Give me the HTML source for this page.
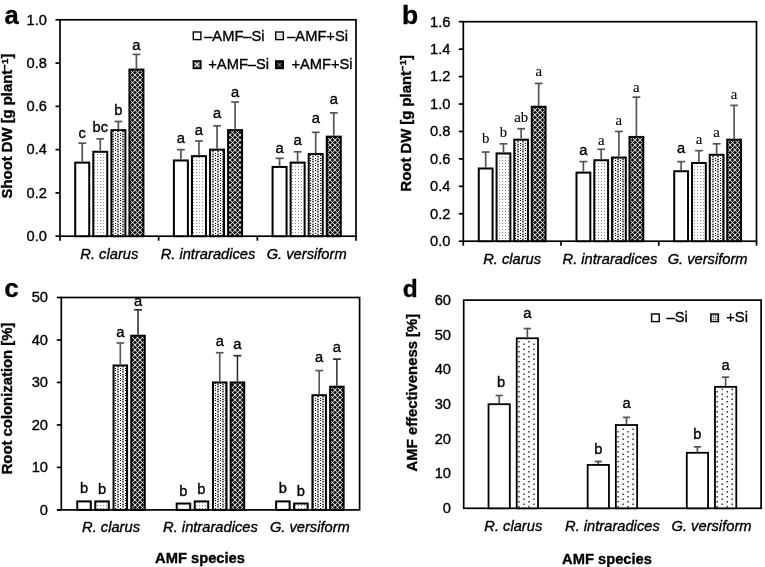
<!DOCTYPE html>
<html><head><meta charset="utf-8"><style>
html,body{margin:0;padding:0;background:#fff;}
svg{display:block;will-change:transform;}
text{fill:#000;stroke:#000;stroke-width:0.35px;}
</style></head><body>
<svg width="765" height="567" viewBox="0 0 765 567">
<defs>
<pattern id="p2" width="3" height="3" patternUnits="userSpaceOnUse"><rect width="3" height="3" fill="#fff"/><rect x="1" y="1" width="1" height="1" fill="#8a8a8a"/></pattern>
<pattern id="p3" width="5" height="5" patternUnits="userSpaceOnUse" x="0" y="0"><rect x="0" y="0" width="1" height="1" fill="#000"/><rect x="1" y="0" width="1" height="1" fill="#fff"/><rect x="2" y="0" width="1" height="1" fill="#c4c4c4"/><rect x="3" y="0" width="1" height="1" fill="#c4c4c4"/><rect x="4" y="0" width="1" height="1" fill="#fff"/><rect x="0" y="1" width="1" height="1" fill="#fff"/><rect x="1" y="1" width="1" height="1" fill="#fff"/><rect x="2" y="1" width="1" height="1" fill="#555"/><rect x="3" y="1" width="1" height="1" fill="#555"/><rect x="4" y="1" width="1" height="1" fill="#fff"/><rect x="0" y="2" width="1" height="1" fill="#fff"/><rect x="1" y="2" width="1" height="1" fill="#fff"/><rect x="2" y="2" width="1" height="1" fill="#c4c4c4"/><rect x="3" y="2" width="1" height="1" fill="#c4c4c4"/><rect x="4" y="2" width="1" height="1" fill="#fff"/><rect x="0" y="3" width="1" height="1" fill="#000"/><rect x="1" y="3" width="1" height="1" fill="#fff"/><rect x="2" y="3" width="1" height="1" fill="#c4c4c4"/><rect x="3" y="3" width="1" height="1" fill="#c4c4c4"/><rect x="4" y="3" width="1" height="1" fill="#fff"/><rect x="0" y="4" width="1" height="1" fill="#fff"/><rect x="1" y="4" width="1" height="1" fill="#fff"/><rect x="2" y="4" width="1" height="1" fill="#555"/><rect x="3" y="4" width="1" height="1" fill="#555"/><rect x="4" y="4" width="1" height="1" fill="#fff"/></pattern>
<pattern id="p4" width="5" height="5" patternUnits="userSpaceOnUse" x="0" y="0"><rect x="0" y="0" width="1" height="1" fill="#d0d0d0"/><rect x="1" y="0" width="1" height="1" fill="#333"/><rect x="2" y="0" width="1" height="1" fill="#0a0a0a"/><rect x="3" y="0" width="1" height="1" fill="#333"/><rect x="4" y="0" width="1" height="1" fill="#d0d0d0"/><rect x="0" y="1" width="1" height="1" fill="#333"/><rect x="1" y="1" width="1" height="1" fill="#bdbdbd"/><rect x="2" y="1" width="1" height="1" fill="#333"/><rect x="3" y="1" width="1" height="1" fill="#bdbdbd"/><rect x="4" y="1" width="1" height="1" fill="#333"/><rect x="0" y="2" width="1" height="1" fill="#0a0a0a"/><rect x="1" y="2" width="1" height="1" fill="#333"/><rect x="2" y="2" width="1" height="1" fill="#fff"/><rect x="3" y="2" width="1" height="1" fill="#333"/><rect x="4" y="2" width="1" height="1" fill="#0a0a0a"/><rect x="0" y="3" width="1" height="1" fill="#333"/><rect x="1" y="3" width="1" height="1" fill="#bdbdbd"/><rect x="2" y="3" width="1" height="1" fill="#333"/><rect x="3" y="3" width="1" height="1" fill="#bdbdbd"/><rect x="4" y="3" width="1" height="1" fill="#333"/><rect x="0" y="4" width="1" height="1" fill="#d0d0d0"/><rect x="1" y="4" width="1" height="1" fill="#333"/><rect x="2" y="4" width="1" height="1" fill="#0a0a0a"/><rect x="3" y="4" width="1" height="1" fill="#333"/><rect x="4" y="4" width="1" height="1" fill="#d0d0d0"/></pattern>
<pattern id="pl" width="2" height="2" patternUnits="userSpaceOnUse"><rect width="2" height="2" fill="#bbb"/><rect width="1" height="1" fill="#fff"/><rect x="1" y="1" width="1" height="1" fill="#666"/></pattern>
<pattern id="pl2" width="8" height="8" patternUnits="objectBoundingBox"><rect width="8" height="8" fill="#f4f4f4"/><rect x="2" y="2" width="3.6" height="3.6" fill="#d8d8d8"/></pattern>
<pattern id="pl3" width="8" height="8" patternUnits="objectBoundingBox"><rect width="8" height="8" fill="#3a3a3a"/><path d="M1.5 1.5L6 6M6 1.5L1.5 6" stroke="#eee" stroke-width="1.3"/></pattern>
<pattern id="pl4" width="8" height="8" patternUnits="objectBoundingBox"><rect width="8" height="8" fill="#0a0a0a"/><path d="M1.8 1.8L5.8 5.8M5.8 1.8L1.8 5.8" stroke="#aaa" stroke-width="0.9"/></pattern>
</defs>
<rect width="765" height="567" fill="#fff"/>
<rect x="60" y="19.8" width="296" height="216.4" fill="none" stroke="#000" stroke-width="1.7"/>
<line x1="55.5" y1="236.2" x2="60" y2="236.2" stroke="#000" stroke-width="1.7"/>
<text x="47" y="241" font-size="14.7" text-anchor="end" font-weight="normal" font-style="normal" font-family='"Liberation Sans", sans-serif' >0.0</text>
<line x1="55.5" y1="192.92" x2="60" y2="192.92" stroke="#000" stroke-width="1.7"/>
<text x="47" y="197.72" font-size="14.7" text-anchor="end" font-weight="normal" font-style="normal" font-family='"Liberation Sans", sans-serif' >0.2</text>
<line x1="55.5" y1="149.64" x2="60" y2="149.64" stroke="#000" stroke-width="1.7"/>
<text x="47" y="154.44" font-size="14.7" text-anchor="end" font-weight="normal" font-style="normal" font-family='"Liberation Sans", sans-serif' >0.4</text>
<line x1="55.5" y1="106.36" x2="60" y2="106.36" stroke="#000" stroke-width="1.7"/>
<text x="47" y="111.16" font-size="14.7" text-anchor="end" font-weight="normal" font-style="normal" font-family='"Liberation Sans", sans-serif' >0.6</text>
<line x1="55.5" y1="63.08" x2="60" y2="63.08" stroke="#000" stroke-width="1.7"/>
<text x="47" y="67.88" font-size="14.7" text-anchor="end" font-weight="normal" font-style="normal" font-family='"Liberation Sans", sans-serif' >0.8</text>
<line x1="55.5" y1="19.8" x2="60" y2="19.8" stroke="#000" stroke-width="1.7"/>
<text x="47" y="24.6" font-size="14.7" text-anchor="end" font-weight="normal" font-style="normal" font-family='"Liberation Sans", sans-serif' >1.0</text>
<line x1="60" y1="236.2" x2="60" y2="240.7" stroke="#000" stroke-width="1.7"/>
<line x1="158.67" y1="236.2" x2="158.67" y2="240.7" stroke="#000" stroke-width="1.7"/>
<line x1="257.33" y1="236.2" x2="257.33" y2="240.7" stroke="#000" stroke-width="1.7"/>
<line x1="356" y1="236.2" x2="356" y2="240.7" stroke="#000" stroke-width="1.7"/>
<text x="109.33" y="258.6" font-size="14.7" text-anchor="middle" font-weight="normal" font-style="italic" font-family='"Liberation Sans", sans-serif' >R. clarus</text>
<rect x="75.23" y="162.62" width="14" height="73.58" fill="#fff" stroke="#000" stroke-width="2.0"/>
<line x1="82.23" y1="161.62" x2="82.23" y2="143.15" stroke="#555" stroke-width="1.7"/>
<line x1="78.33" y1="143.15" x2="86.13" y2="143.15" stroke="#555" stroke-width="1.7"/>
<text x="82.23" y="138.2" font-size="14.7" text-anchor="middle" font-weight="normal" font-style="normal" font-family='"Liberation Sans", sans-serif' >c</text>
<rect x="93.28" y="151.8" width="14" height="84.4" fill="url(#p2)" stroke="#000" stroke-width="2.0"/>
<line x1="100.28" y1="150.8" x2="100.28" y2="138.82" stroke="#555" stroke-width="1.7"/>
<line x1="96.38" y1="138.82" x2="104.18" y2="138.82" stroke="#555" stroke-width="1.7"/>
<text x="100.28" y="132" font-size="14.7" text-anchor="middle" font-weight="normal" font-style="normal" font-family='"Liberation Sans", sans-serif' >bc</text>
<rect x="111.38" y="130.16" width="14" height="106.04" fill="url(#p3)" stroke="#000" stroke-width="2.0"/>
<line x1="118.38" y1="129.16" x2="118.38" y2="121.51" stroke="#555" stroke-width="1.7"/>
<line x1="114.48" y1="121.51" x2="122.28" y2="121.51" stroke="#555" stroke-width="1.7"/>
<text x="118.38" y="114.5" font-size="14.7" text-anchor="middle" font-weight="normal" font-style="normal" font-family='"Liberation Sans", sans-serif' >b</text>
<rect x="129.43" y="69.57" width="14" height="166.63" fill="url(#p4)" stroke="#000" stroke-width="2.0"/>
<line x1="136.43" y1="68.57" x2="136.43" y2="54.42" stroke="#555" stroke-width="1.7"/>
<line x1="132.53" y1="54.42" x2="140.33" y2="54.42" stroke="#555" stroke-width="1.7"/>
<text x="136.43" y="49.6" font-size="14.7" text-anchor="middle" font-weight="normal" font-style="normal" font-family='"Liberation Sans", sans-serif' >a</text>
<text x="208" y="258.6" font-size="14.7" text-anchor="middle" font-weight="normal" font-style="italic" font-family='"Liberation Sans", sans-serif' >R. intraradices</text>
<rect x="173.9" y="160.46" width="14" height="75.74" fill="#fff" stroke="#000" stroke-width="2.0"/>
<line x1="180.9" y1="159.46" x2="180.9" y2="149.64" stroke="#555" stroke-width="1.7"/>
<line x1="177" y1="149.64" x2="184.8" y2="149.64" stroke="#555" stroke-width="1.7"/>
<text x="180.9" y="143.2" font-size="14.7" text-anchor="middle" font-weight="normal" font-style="normal" font-family='"Liberation Sans", sans-serif' >a</text>
<rect x="191.95" y="156.13" width="14" height="80.07" fill="url(#p2)" stroke="#000" stroke-width="2.0"/>
<line x1="198.95" y1="155.13" x2="198.95" y2="140.98" stroke="#555" stroke-width="1.7"/>
<line x1="195.05" y1="140.98" x2="202.85" y2="140.98" stroke="#555" stroke-width="1.7"/>
<text x="198.95" y="134.9" font-size="14.7" text-anchor="middle" font-weight="normal" font-style="normal" font-family='"Liberation Sans", sans-serif' >a</text>
<rect x="210.05" y="149.64" width="14" height="86.56" fill="url(#p3)" stroke="#000" stroke-width="2.0"/>
<line x1="217.05" y1="148.64" x2="217.05" y2="125.84" stroke="#555" stroke-width="1.7"/>
<line x1="213.15" y1="125.84" x2="220.95" y2="125.84" stroke="#555" stroke-width="1.7"/>
<text x="217.05" y="117.7" font-size="14.7" text-anchor="middle" font-weight="normal" font-style="normal" font-family='"Liberation Sans", sans-serif' >a</text>
<rect x="228.1" y="130.16" width="14" height="106.04" fill="url(#p4)" stroke="#000" stroke-width="2.0"/>
<line x1="235.1" y1="129.16" x2="235.1" y2="102.03" stroke="#555" stroke-width="1.7"/>
<line x1="231.2" y1="102.03" x2="239" y2="102.03" stroke="#555" stroke-width="1.7"/>
<text x="235.1" y="96.6" font-size="14.7" text-anchor="middle" font-weight="normal" font-style="normal" font-family='"Liberation Sans", sans-serif' >a</text>
<text x="306.67" y="258.6" font-size="14.7" text-anchor="middle" font-weight="normal" font-style="italic" font-family='"Liberation Sans", sans-serif' >G. versiform</text>
<rect x="272.57" y="166.95" width="14" height="69.25" fill="#fff" stroke="#000" stroke-width="2.0"/>
<line x1="279.57" y1="165.95" x2="279.57" y2="158.3" stroke="#555" stroke-width="1.7"/>
<line x1="275.67" y1="158.3" x2="283.47" y2="158.3" stroke="#555" stroke-width="1.7"/>
<text x="279.57" y="152.6" font-size="14.7" text-anchor="middle" font-weight="normal" font-style="normal" font-family='"Liberation Sans", sans-serif' >a</text>
<rect x="290.62" y="162.62" width="14" height="73.58" fill="url(#p2)" stroke="#000" stroke-width="2.0"/>
<line x1="297.62" y1="161.62" x2="297.62" y2="151.8" stroke="#555" stroke-width="1.7"/>
<line x1="293.72" y1="151.8" x2="301.52" y2="151.8" stroke="#555" stroke-width="1.7"/>
<text x="297.62" y="145.4" font-size="14.7" text-anchor="middle" font-weight="normal" font-style="normal" font-family='"Liberation Sans", sans-serif' >a</text>
<rect x="308.72" y="153.97" width="14" height="82.23" fill="url(#p3)" stroke="#000" stroke-width="2.0"/>
<line x1="315.72" y1="152.97" x2="315.72" y2="132.33" stroke="#555" stroke-width="1.7"/>
<line x1="311.82" y1="132.33" x2="319.62" y2="132.33" stroke="#555" stroke-width="1.7"/>
<text x="315.72" y="123.4" font-size="14.7" text-anchor="middle" font-weight="normal" font-style="normal" font-family='"Liberation Sans", sans-serif' >a</text>
<rect x="326.77" y="136.66" width="14" height="99.54" fill="url(#p4)" stroke="#000" stroke-width="2.0"/>
<line x1="333.77" y1="135.66" x2="333.77" y2="112.85" stroke="#555" stroke-width="1.7"/>
<line x1="329.87" y1="112.85" x2="337.67" y2="112.85" stroke="#555" stroke-width="1.7"/>
<text x="333.77" y="103.7" font-size="14.7" text-anchor="middle" font-weight="normal" font-style="normal" font-family='"Liberation Sans", sans-serif' >a</text>
<text transform="translate(12.3,126) rotate(-90)" font-size="14.85" text-anchor="middle" font-weight="bold" font-family='"Liberation Sans", sans-serif'>Shoot DW [g plant<tspan font-size="9.8" dy="-4.8">&#8722;1</tspan><tspan dy="4.8">]</tspan></text>
<text x="4.6" y="23.9" font-size="25.5" text-anchor="start" font-weight="bold" font-style="normal" font-family='"Liberation Sans", sans-serif' >a</text>
<rect x="463.3" y="21.7" width="293.2" height="219.5" fill="none" stroke="#000" stroke-width="1.7"/>
<line x1="458.8" y1="241.2" x2="463.3" y2="241.2" stroke="#000" stroke-width="1.7"/>
<text x="450.5" y="246" font-size="14.7" text-anchor="end" font-weight="normal" font-style="normal" font-family='"Liberation Sans", sans-serif' >0.0</text>
<line x1="458.8" y1="213.76" x2="463.3" y2="213.76" stroke="#000" stroke-width="1.7"/>
<text x="450.5" y="218.56" font-size="14.7" text-anchor="end" font-weight="normal" font-style="normal" font-family='"Liberation Sans", sans-serif' >0.2</text>
<line x1="458.8" y1="186.32" x2="463.3" y2="186.32" stroke="#000" stroke-width="1.7"/>
<text x="450.5" y="191.12" font-size="14.7" text-anchor="end" font-weight="normal" font-style="normal" font-family='"Liberation Sans", sans-serif' >0.4</text>
<line x1="458.8" y1="158.89" x2="463.3" y2="158.89" stroke="#000" stroke-width="1.7"/>
<text x="450.5" y="163.69" font-size="14.7" text-anchor="end" font-weight="normal" font-style="normal" font-family='"Liberation Sans", sans-serif' >0.6</text>
<line x1="458.8" y1="131.45" x2="463.3" y2="131.45" stroke="#000" stroke-width="1.7"/>
<text x="450.5" y="136.25" font-size="14.7" text-anchor="end" font-weight="normal" font-style="normal" font-family='"Liberation Sans", sans-serif' >0.8</text>
<line x1="458.8" y1="104.01" x2="463.3" y2="104.01" stroke="#000" stroke-width="1.7"/>
<text x="450.5" y="108.81" font-size="14.7" text-anchor="end" font-weight="normal" font-style="normal" font-family='"Liberation Sans", sans-serif' >1.0</text>
<line x1="458.8" y1="76.57" x2="463.3" y2="76.57" stroke="#000" stroke-width="1.7"/>
<text x="450.5" y="81.37" font-size="14.7" text-anchor="end" font-weight="normal" font-style="normal" font-family='"Liberation Sans", sans-serif' >1.2</text>
<line x1="458.8" y1="49.14" x2="463.3" y2="49.14" stroke="#000" stroke-width="1.7"/>
<text x="450.5" y="53.94" font-size="14.7" text-anchor="end" font-weight="normal" font-style="normal" font-family='"Liberation Sans", sans-serif' >1.4</text>
<line x1="458.8" y1="21.7" x2="463.3" y2="21.7" stroke="#000" stroke-width="1.7"/>
<text x="450.5" y="26.5" font-size="14.7" text-anchor="end" font-weight="normal" font-style="normal" font-family='"Liberation Sans", sans-serif' >1.6</text>
<line x1="463.3" y1="241.2" x2="463.3" y2="245.7" stroke="#000" stroke-width="1.7"/>
<line x1="561.03" y1="241.2" x2="561.03" y2="245.7" stroke="#000" stroke-width="1.7"/>
<line x1="658.77" y1="241.2" x2="658.77" y2="245.7" stroke="#000" stroke-width="1.7"/>
<line x1="756.5" y1="241.2" x2="756.5" y2="245.7" stroke="#000" stroke-width="1.7"/>
<text x="512.17" y="263.7" font-size="14.7" text-anchor="middle" font-weight="normal" font-style="italic" font-family='"Liberation Sans", sans-serif' >R. clarus</text>
<rect x="478.77" y="168.49" width="13.8" height="72.71" fill="#fff" stroke="#000" stroke-width="2.0"/>
<line x1="485.67" y1="167.49" x2="485.67" y2="152.03" stroke="#555" stroke-width="1.7"/>
<line x1="481.77" y1="152.03" x2="489.57" y2="152.03" stroke="#555" stroke-width="1.7"/>
<text x="485.67" y="143.1" font-size="14.8" text-anchor="middle" font-weight="normal" font-style="normal" font-family='"Liberation Serif", serif' style="stroke-width:0.1px">b</text>
<rect x="496.57" y="153.4" width="13.8" height="87.8" fill="url(#p2)" stroke="#000" stroke-width="2.0"/>
<line x1="503.47" y1="152.4" x2="503.47" y2="143.8" stroke="#555" stroke-width="1.7"/>
<line x1="499.57" y1="143.8" x2="507.37" y2="143.8" stroke="#555" stroke-width="1.7"/>
<text x="503.47" y="137.3" font-size="14.8" text-anchor="middle" font-weight="normal" font-style="normal" font-family='"Liberation Serif", serif' style="stroke-width:0.1px">b</text>
<rect x="514.27" y="139.68" width="13.8" height="101.52" fill="url(#p3)" stroke="#000" stroke-width="2.0"/>
<line x1="521.17" y1="138.68" x2="521.17" y2="128.71" stroke="#555" stroke-width="1.7"/>
<line x1="517.27" y1="128.71" x2="525.07" y2="128.71" stroke="#555" stroke-width="1.7"/>
<text x="521.17" y="121.7" font-size="14.8" text-anchor="middle" font-weight="normal" font-style="normal" font-family='"Liberation Serif", serif' style="stroke-width:0.1px">ab</text>
<rect x="531.77" y="106.76" width="13.8" height="134.44" fill="url(#p4)" stroke="#000" stroke-width="2.0"/>
<line x1="538.67" y1="105.76" x2="538.67" y2="83.43" stroke="#555" stroke-width="1.7"/>
<line x1="534.77" y1="83.43" x2="542.57" y2="83.43" stroke="#555" stroke-width="1.7"/>
<text x="538.67" y="75.8" font-size="14.8" text-anchor="middle" font-weight="normal" font-style="normal" font-family='"Liberation Serif", serif' style="stroke-width:0.1px">a</text>
<text x="609.9" y="263.7" font-size="14.7" text-anchor="middle" font-weight="normal" font-style="italic" font-family='"Liberation Sans", sans-serif' >R. intraradices</text>
<rect x="576.5" y="172.61" width="13.8" height="68.59" fill="#fff" stroke="#000" stroke-width="2.0"/>
<line x1="583.4" y1="171.61" x2="583.4" y2="161.63" stroke="#555" stroke-width="1.7"/>
<line x1="579.5" y1="161.63" x2="587.3" y2="161.63" stroke="#555" stroke-width="1.7"/>
<text x="583.4" y="154.7" font-size="14.7" text-anchor="middle" font-weight="normal" font-style="normal" font-family='"Liberation Sans", sans-serif' >a</text>
<rect x="594.3" y="160.26" width="13.8" height="80.94" fill="url(#p2)" stroke="#000" stroke-width="2.0"/>
<line x1="601.2" y1="159.26" x2="601.2" y2="149.28" stroke="#555" stroke-width="1.7"/>
<line x1="597.3" y1="149.28" x2="605.1" y2="149.28" stroke="#555" stroke-width="1.7"/>
<text x="601.2" y="144.9" font-size="14.8" text-anchor="middle" font-weight="normal" font-style="normal" font-family='"Liberation Serif", serif' style="stroke-width:0.1px">a</text>
<rect x="612" y="157.52" width="13.8" height="83.68" fill="url(#p3)" stroke="#000" stroke-width="2.0"/>
<line x1="618.9" y1="156.52" x2="618.9" y2="131.45" stroke="#555" stroke-width="1.7"/>
<line x1="615" y1="131.45" x2="622.8" y2="131.45" stroke="#555" stroke-width="1.7"/>
<text x="618.9" y="124.8" font-size="14.8" text-anchor="middle" font-weight="normal" font-style="normal" font-family='"Liberation Serif", serif' style="stroke-width:0.1px">a</text>
<rect x="629.5" y="136.94" width="13.8" height="104.26" fill="url(#p4)" stroke="#000" stroke-width="2.0"/>
<line x1="636.4" y1="135.94" x2="636.4" y2="97.15" stroke="#555" stroke-width="1.7"/>
<line x1="632.5" y1="97.15" x2="640.3" y2="97.15" stroke="#555" stroke-width="1.7"/>
<text x="636.4" y="91.5" font-size="14.8" text-anchor="middle" font-weight="normal" font-style="normal" font-family='"Liberation Serif", serif' style="stroke-width:0.1px">a</text>
<text x="707.63" y="263.7" font-size="14.7" text-anchor="middle" font-weight="normal" font-style="italic" font-family='"Liberation Sans", sans-serif' >G. versiform</text>
<rect x="674.23" y="171.23" width="13.8" height="69.97" fill="#fff" stroke="#000" stroke-width="2.0"/>
<line x1="681.13" y1="170.23" x2="681.13" y2="161.63" stroke="#555" stroke-width="1.7"/>
<line x1="677.23" y1="161.63" x2="685.03" y2="161.63" stroke="#555" stroke-width="1.7"/>
<text x="681.13" y="153.4" font-size="14.7" text-anchor="middle" font-weight="normal" font-style="normal" font-family='"Liberation Sans", sans-serif' >a</text>
<rect x="692.03" y="163" width="13.8" height="78.2" fill="url(#p2)" stroke="#000" stroke-width="2.0"/>
<line x1="698.93" y1="162" x2="698.93" y2="150.66" stroke="#555" stroke-width="1.7"/>
<line x1="695.03" y1="150.66" x2="702.83" y2="150.66" stroke="#555" stroke-width="1.7"/>
<text x="698.93" y="144" font-size="14.8" text-anchor="middle" font-weight="normal" font-style="normal" font-family='"Liberation Serif", serif' style="stroke-width:0.1px">a</text>
<rect x="709.73" y="154.77" width="13.8" height="86.43" fill="url(#p3)" stroke="#000" stroke-width="2.0"/>
<line x1="716.63" y1="153.77" x2="716.63" y2="143.8" stroke="#555" stroke-width="1.7"/>
<line x1="712.73" y1="143.8" x2="720.53" y2="143.8" stroke="#555" stroke-width="1.7"/>
<text x="716.63" y="137" font-size="14.8" text-anchor="middle" font-weight="normal" font-style="normal" font-family='"Liberation Serif", serif' style="stroke-width:0.1px">a</text>
<rect x="727.23" y="139.68" width="13.8" height="101.52" fill="url(#p4)" stroke="#000" stroke-width="2.0"/>
<line x1="734.13" y1="138.68" x2="734.13" y2="105.38" stroke="#555" stroke-width="1.7"/>
<line x1="730.23" y1="105.38" x2="738.03" y2="105.38" stroke="#555" stroke-width="1.7"/>
<text x="734.13" y="98.5" font-size="14.8" text-anchor="middle" font-weight="normal" font-style="normal" font-family='"Liberation Serif", serif' style="stroke-width:0.1px">a</text>
<text transform="translate(410.6,123.2) rotate(-90)" font-size="14.85" text-anchor="middle" font-weight="bold" font-family='"Liberation Sans", sans-serif'>Root DW [g plant<tspan font-size="9.8" dy="-4.8">&#8722;1</tspan><tspan dy="4.8">]</tspan></text>
<text x="402" y="23.8" font-size="26.5" text-anchor="start" font-weight="bold" font-style="normal" font-family='"Liberation Sans", sans-serif' >b</text>
<rect x="61.3" y="297.5" width="298.3" height="212.4" fill="none" stroke="#000" stroke-width="1.7"/>
<line x1="56.8" y1="509.9" x2="61.3" y2="509.9" stroke="#000" stroke-width="1.7"/>
<text x="48" y="514.7" font-size="14.7" text-anchor="end" font-weight="normal" font-style="normal" font-family='"Liberation Sans", sans-serif' >0</text>
<line x1="56.8" y1="467.42" x2="61.3" y2="467.42" stroke="#000" stroke-width="1.7"/>
<text x="48" y="472.22" font-size="14.7" text-anchor="end" font-weight="normal" font-style="normal" font-family='"Liberation Sans", sans-serif' >10</text>
<line x1="56.8" y1="424.94" x2="61.3" y2="424.94" stroke="#000" stroke-width="1.7"/>
<text x="48" y="429.74" font-size="14.7" text-anchor="end" font-weight="normal" font-style="normal" font-family='"Liberation Sans", sans-serif' >20</text>
<line x1="56.8" y1="382.46" x2="61.3" y2="382.46" stroke="#000" stroke-width="1.7"/>
<text x="48" y="387.26" font-size="14.7" text-anchor="end" font-weight="normal" font-style="normal" font-family='"Liberation Sans", sans-serif' >30</text>
<line x1="56.8" y1="339.98" x2="61.3" y2="339.98" stroke="#000" stroke-width="1.7"/>
<text x="48" y="344.78" font-size="14.7" text-anchor="end" font-weight="normal" font-style="normal" font-family='"Liberation Sans", sans-serif' >40</text>
<line x1="56.8" y1="297.5" x2="61.3" y2="297.5" stroke="#000" stroke-width="1.7"/>
<text x="48" y="302.3" font-size="14.7" text-anchor="end" font-weight="normal" font-style="normal" font-family='"Liberation Sans", sans-serif' >50</text>
<line x1="57.3" y1="509.9" x2="61.3" y2="509.9" stroke="#000" stroke-width="1.7"/>
<text x="111.02" y="532" font-size="14.7" text-anchor="middle" font-weight="normal" font-style="italic" font-family='"Liberation Sans", sans-serif' >R. clarus</text>
<rect x="77.27" y="501.4" width="13.5" height="8.5" fill="#fff" stroke="#000" stroke-width="2.0"/>
<text x="84.02" y="493.4" font-size="14.7" text-anchor="middle" font-weight="normal" font-style="normal" font-family='"Liberation Sans", sans-serif' >b</text>
<rect x="95.27" y="501.4" width="13.5" height="8.5" fill="url(#p2)" stroke="#000" stroke-width="2.0"/>
<text x="102.02" y="494" font-size="14.7" text-anchor="middle" font-weight="normal" font-style="normal" font-family='"Liberation Sans", sans-serif' >b</text>
<rect x="113.57" y="365.47" width="13.5" height="144.43" fill="url(#p3)" stroke="#000" stroke-width="2.0"/>
<line x1="120.32" y1="364.47" x2="120.32" y2="342.95" stroke="#5a5a5a" stroke-width="1.7"/>
<line x1="116.42" y1="342.95" x2="124.22" y2="342.95" stroke="#5a5a5a" stroke-width="1.7"/>
<text x="120.32" y="337.3" font-size="14.7" text-anchor="middle" font-weight="normal" font-style="normal" font-family='"Liberation Sans", sans-serif' >a</text>
<rect x="131.27" y="335.73" width="13.5" height="174.17" fill="url(#p4)" stroke="#000" stroke-width="2.0"/>
<line x1="138.02" y1="334.73" x2="138.02" y2="309.82" stroke="#2a2a2a" stroke-width="1.5"/>
<line x1="134.12" y1="309.82" x2="141.92" y2="309.82" stroke="#2a2a2a" stroke-width="1.7"/>
<text x="138.02" y="305.8" font-size="14.7" text-anchor="middle" font-weight="normal" font-style="normal" font-family='"Liberation Sans", sans-serif' >a</text>
<text x="210.45" y="532" font-size="14.7" text-anchor="middle" font-weight="normal" font-style="italic" font-family='"Liberation Sans", sans-serif' >R. intraradices</text>
<rect x="176.7" y="503.53" width="13.5" height="6.37" fill="#fff" stroke="#000" stroke-width="2.0"/>
<text x="183.45" y="495.6" font-size="14.7" text-anchor="middle" font-weight="normal" font-style="normal" font-family='"Liberation Sans", sans-serif' >b</text>
<rect x="194.7" y="501.4" width="13.5" height="8.5" fill="url(#p2)" stroke="#000" stroke-width="2.0"/>
<text x="201.45" y="493.6" font-size="14.7" text-anchor="middle" font-weight="normal" font-style="normal" font-family='"Liberation Sans", sans-serif' >b</text>
<rect x="213" y="382.46" width="13.5" height="127.44" fill="url(#p3)" stroke="#000" stroke-width="2.0"/>
<line x1="219.75" y1="381.46" x2="219.75" y2="352.72" stroke="#5a5a5a" stroke-width="1.7"/>
<line x1="215.85" y1="352.72" x2="223.65" y2="352.72" stroke="#5a5a5a" stroke-width="1.7"/>
<text x="219.75" y="345.7" font-size="14.7" text-anchor="middle" font-weight="normal" font-style="normal" font-family='"Liberation Sans", sans-serif' >a</text>
<rect x="230.7" y="382.46" width="13.5" height="127.44" fill="url(#p4)" stroke="#000" stroke-width="2.0"/>
<line x1="237.45" y1="381.46" x2="237.45" y2="355.7" stroke="#2a2a2a" stroke-width="1.5"/>
<line x1="233.55" y1="355.7" x2="241.35" y2="355.7" stroke="#2a2a2a" stroke-width="1.7"/>
<text x="237.45" y="349.2" font-size="14.7" text-anchor="middle" font-weight="normal" font-style="normal" font-family='"Liberation Sans", sans-serif' >a</text>
<text x="309.88" y="532" font-size="14.7" text-anchor="middle" font-weight="normal" font-style="italic" font-family='"Liberation Sans", sans-serif' >G. versiform</text>
<rect x="276.13" y="501.4" width="13.5" height="8.5" fill="#fff" stroke="#000" stroke-width="2.0"/>
<text x="282.88" y="493" font-size="14.7" text-anchor="middle" font-weight="normal" font-style="normal" font-family='"Liberation Sans", sans-serif' >b</text>
<rect x="294.13" y="503.53" width="13.5" height="6.37" fill="url(#p2)" stroke="#000" stroke-width="2.0"/>
<text x="300.88" y="495.8" font-size="14.7" text-anchor="middle" font-weight="normal" font-style="normal" font-family='"Liberation Sans", sans-serif' >b</text>
<rect x="312.43" y="395.2" width="13.5" height="114.7" fill="url(#p3)" stroke="#000" stroke-width="2.0"/>
<line x1="319.18" y1="394.2" x2="319.18" y2="370.57" stroke="#5a5a5a" stroke-width="1.7"/>
<line x1="315.28" y1="370.57" x2="323.08" y2="370.57" stroke="#5a5a5a" stroke-width="1.7"/>
<text x="319.18" y="361.9" font-size="14.7" text-anchor="middle" font-weight="normal" font-style="normal" font-family='"Liberation Sans", sans-serif' >a</text>
<rect x="330.13" y="386.71" width="13.5" height="123.19" fill="url(#p4)" stroke="#000" stroke-width="2.0"/>
<line x1="336.88" y1="385.71" x2="336.88" y2="359.1" stroke="#2a2a2a" stroke-width="1.5"/>
<line x1="332.98" y1="359.1" x2="340.78" y2="359.1" stroke="#2a2a2a" stroke-width="1.7"/>
<text x="336.88" y="352.3" font-size="14.7" text-anchor="middle" font-weight="normal" font-style="normal" font-family='"Liberation Sans", sans-serif' >a</text>
<text transform="translate(12.3,398.5) rotate(-90)" font-size="14.85" text-anchor="middle" font-weight="bold" font-family='"Liberation Sans", sans-serif'>Root colonization [%]</text>
<text x="4.3" y="296.9" font-size="26" text-anchor="start" font-weight="bold" font-style="normal" font-family='"Liberation Sans", sans-serif' >c</text>
<text x="200" y="562.8" font-size="14.7" text-anchor="middle" font-weight="bold" font-style="normal" font-family='"Liberation Sans", sans-serif' >AMF species</text>
<rect x="463.7" y="300.1" width="297.4" height="208.2" fill="none" stroke="#000" stroke-width="1.7"/>
<text x="451" y="513.1" font-size="14.7" text-anchor="end" font-weight="normal" font-style="normal" font-family='"Liberation Sans", sans-serif' >0</text>
<text x="451" y="478.4" font-size="14.7" text-anchor="end" font-weight="normal" font-style="normal" font-family='"Liberation Sans", sans-serif' >10</text>
<text x="451" y="443.7" font-size="14.7" text-anchor="end" font-weight="normal" font-style="normal" font-family='"Liberation Sans", sans-serif' >20</text>
<text x="451" y="409" font-size="14.7" text-anchor="end" font-weight="normal" font-style="normal" font-family='"Liberation Sans", sans-serif' >30</text>
<text x="451" y="374.3" font-size="14.7" text-anchor="end" font-weight="normal" font-style="normal" font-family='"Liberation Sans", sans-serif' >40</text>
<text x="451" y="339.6" font-size="14.7" text-anchor="end" font-weight="normal" font-style="normal" font-family='"Liberation Sans", sans-serif' >50</text>
<text x="451" y="304.9" font-size="14.7" text-anchor="end" font-weight="normal" font-style="normal" font-family='"Liberation Sans", sans-serif' >60</text>
<text x="513.27" y="530.6" font-size="14.7" text-anchor="middle" font-weight="normal" font-style="italic" font-family='"Liberation Sans", sans-serif' >R. clarus</text>
<rect x="488.52" y="404.2" width="21.3" height="104.1" fill="#fff" stroke="#000" stroke-width="1.8"/>
<line x1="499.17" y1="403.3" x2="499.17" y2="395.53" stroke="#555" stroke-width="1.7"/>
<line x1="495.57" y1="395.53" x2="502.77" y2="395.53" stroke="#555" stroke-width="1.7"/>
<text x="500.97" y="387.3" font-size="14.7" text-anchor="middle" font-weight="normal" font-style="normal" font-family='"Liberation Sans", sans-serif' >b</text>
<rect x="516.72" y="338.27" width="21.3" height="170.03" fill="#fff"/>
<rect x="518.22" y="341" width="1.5" height="1.5" fill="#333"/>
<rect x="518.22" y="346" width="1.5" height="1.5" fill="#333"/>
<rect x="518.22" y="351" width="1.5" height="1.5" fill="#333"/>
<rect x="518.22" y="356" width="1.5" height="1.5" fill="#333"/>
<rect x="518.22" y="361" width="1.5" height="1.5" fill="#333"/>
<rect x="518.22" y="366" width="1.5" height="1.5" fill="#333"/>
<rect x="518.22" y="371" width="1.5" height="1.5" fill="#333"/>
<rect x="518.22" y="376" width="1.5" height="1.5" fill="#333"/>
<rect x="518.22" y="381" width="1.5" height="1.5" fill="#333"/>
<rect x="518.22" y="386" width="1.5" height="1.5" fill="#333"/>
<rect x="518.22" y="391" width="1.5" height="1.5" fill="#333"/>
<rect x="518.22" y="396" width="1.5" height="1.5" fill="#333"/>
<rect x="518.22" y="401" width="1.5" height="1.5" fill="#333"/>
<rect x="518.22" y="406" width="1.5" height="1.5" fill="#333"/>
<rect x="518.22" y="411" width="1.5" height="1.5" fill="#333"/>
<rect x="518.22" y="416" width="1.5" height="1.5" fill="#333"/>
<rect x="518.22" y="421" width="1.5" height="1.5" fill="#333"/>
<rect x="518.22" y="426" width="1.5" height="1.5" fill="#333"/>
<rect x="518.22" y="431" width="1.5" height="1.5" fill="#333"/>
<rect x="518.22" y="436" width="1.5" height="1.5" fill="#333"/>
<rect x="518.22" y="441" width="1.5" height="1.5" fill="#333"/>
<rect x="518.22" y="446" width="1.5" height="1.5" fill="#333"/>
<rect x="518.22" y="451" width="1.5" height="1.5" fill="#333"/>
<rect x="518.22" y="456" width="1.5" height="1.5" fill="#333"/>
<rect x="518.22" y="461" width="1.5" height="1.5" fill="#333"/>
<rect x="518.22" y="466" width="1.5" height="1.5" fill="#333"/>
<rect x="518.22" y="471" width="1.5" height="1.5" fill="#333"/>
<rect x="518.22" y="476" width="1.5" height="1.5" fill="#333"/>
<rect x="518.22" y="481" width="1.5" height="1.5" fill="#333"/>
<rect x="518.22" y="486" width="1.5" height="1.5" fill="#333"/>
<rect x="518.22" y="491" width="1.5" height="1.5" fill="#333"/>
<rect x="518.22" y="496" width="1.5" height="1.5" fill="#333"/>
<rect x="518.22" y="501" width="1.5" height="1.5" fill="#333"/>
<rect x="518.22" y="506" width="1.5" height="1.5" fill="#333"/>
<rect x="523.22" y="343.5" width="1.5" height="1.5" fill="#333"/>
<rect x="523.22" y="348.5" width="1.5" height="1.5" fill="#333"/>
<rect x="523.22" y="353.5" width="1.5" height="1.5" fill="#333"/>
<rect x="523.22" y="358.5" width="1.5" height="1.5" fill="#333"/>
<rect x="523.22" y="363.5" width="1.5" height="1.5" fill="#333"/>
<rect x="523.22" y="368.5" width="1.5" height="1.5" fill="#333"/>
<rect x="523.22" y="373.5" width="1.5" height="1.5" fill="#333"/>
<rect x="523.22" y="378.5" width="1.5" height="1.5" fill="#333"/>
<rect x="523.22" y="383.5" width="1.5" height="1.5" fill="#333"/>
<rect x="523.22" y="388.5" width="1.5" height="1.5" fill="#333"/>
<rect x="523.22" y="393.5" width="1.5" height="1.5" fill="#333"/>
<rect x="523.22" y="398.5" width="1.5" height="1.5" fill="#333"/>
<rect x="523.22" y="403.5" width="1.5" height="1.5" fill="#333"/>
<rect x="523.22" y="408.5" width="1.5" height="1.5" fill="#333"/>
<rect x="523.22" y="413.5" width="1.5" height="1.5" fill="#333"/>
<rect x="523.22" y="418.5" width="1.5" height="1.5" fill="#333"/>
<rect x="523.22" y="423.5" width="1.5" height="1.5" fill="#333"/>
<rect x="523.22" y="428.5" width="1.5" height="1.5" fill="#333"/>
<rect x="523.22" y="433.5" width="1.5" height="1.5" fill="#333"/>
<rect x="523.22" y="438.5" width="1.5" height="1.5" fill="#333"/>
<rect x="523.22" y="443.5" width="1.5" height="1.5" fill="#333"/>
<rect x="523.22" y="448.5" width="1.5" height="1.5" fill="#333"/>
<rect x="523.22" y="453.5" width="1.5" height="1.5" fill="#333"/>
<rect x="523.22" y="458.5" width="1.5" height="1.5" fill="#333"/>
<rect x="523.22" y="463.5" width="1.5" height="1.5" fill="#333"/>
<rect x="523.22" y="468.5" width="1.5" height="1.5" fill="#333"/>
<rect x="523.22" y="473.5" width="1.5" height="1.5" fill="#333"/>
<rect x="523.22" y="478.5" width="1.5" height="1.5" fill="#333"/>
<rect x="523.22" y="483.5" width="1.5" height="1.5" fill="#333"/>
<rect x="523.22" y="488.5" width="1.5" height="1.5" fill="#333"/>
<rect x="523.22" y="493.5" width="1.5" height="1.5" fill="#333"/>
<rect x="523.22" y="498.5" width="1.5" height="1.5" fill="#333"/>
<rect x="523.22" y="503.5" width="1.5" height="1.5" fill="#333"/>
<rect x="528.22" y="341" width="1.5" height="1.5" fill="#333"/>
<rect x="528.22" y="346" width="1.5" height="1.5" fill="#333"/>
<rect x="528.22" y="351" width="1.5" height="1.5" fill="#333"/>
<rect x="528.22" y="356" width="1.5" height="1.5" fill="#333"/>
<rect x="528.22" y="361" width="1.5" height="1.5" fill="#333"/>
<rect x="528.22" y="366" width="1.5" height="1.5" fill="#333"/>
<rect x="528.22" y="371" width="1.5" height="1.5" fill="#333"/>
<rect x="528.22" y="376" width="1.5" height="1.5" fill="#333"/>
<rect x="528.22" y="381" width="1.5" height="1.5" fill="#333"/>
<rect x="528.22" y="386" width="1.5" height="1.5" fill="#333"/>
<rect x="528.22" y="391" width="1.5" height="1.5" fill="#333"/>
<rect x="528.22" y="396" width="1.5" height="1.5" fill="#333"/>
<rect x="528.22" y="401" width="1.5" height="1.5" fill="#333"/>
<rect x="528.22" y="406" width="1.5" height="1.5" fill="#333"/>
<rect x="528.22" y="411" width="1.5" height="1.5" fill="#333"/>
<rect x="528.22" y="416" width="1.5" height="1.5" fill="#333"/>
<rect x="528.22" y="421" width="1.5" height="1.5" fill="#333"/>
<rect x="528.22" y="426" width="1.5" height="1.5" fill="#333"/>
<rect x="528.22" y="431" width="1.5" height="1.5" fill="#333"/>
<rect x="528.22" y="436" width="1.5" height="1.5" fill="#333"/>
<rect x="528.22" y="441" width="1.5" height="1.5" fill="#333"/>
<rect x="528.22" y="446" width="1.5" height="1.5" fill="#333"/>
<rect x="528.22" y="451" width="1.5" height="1.5" fill="#333"/>
<rect x="528.22" y="456" width="1.5" height="1.5" fill="#333"/>
<rect x="528.22" y="461" width="1.5" height="1.5" fill="#333"/>
<rect x="528.22" y="466" width="1.5" height="1.5" fill="#333"/>
<rect x="528.22" y="471" width="1.5" height="1.5" fill="#333"/>
<rect x="528.22" y="476" width="1.5" height="1.5" fill="#333"/>
<rect x="528.22" y="481" width="1.5" height="1.5" fill="#333"/>
<rect x="528.22" y="486" width="1.5" height="1.5" fill="#333"/>
<rect x="528.22" y="491" width="1.5" height="1.5" fill="#333"/>
<rect x="528.22" y="496" width="1.5" height="1.5" fill="#333"/>
<rect x="528.22" y="501" width="1.5" height="1.5" fill="#333"/>
<rect x="528.22" y="506" width="1.5" height="1.5" fill="#333"/>
<rect x="533.22" y="343.5" width="1.5" height="1.5" fill="#333"/>
<rect x="533.22" y="348.5" width="1.5" height="1.5" fill="#333"/>
<rect x="533.22" y="353.5" width="1.5" height="1.5" fill="#333"/>
<rect x="533.22" y="358.5" width="1.5" height="1.5" fill="#333"/>
<rect x="533.22" y="363.5" width="1.5" height="1.5" fill="#333"/>
<rect x="533.22" y="368.5" width="1.5" height="1.5" fill="#333"/>
<rect x="533.22" y="373.5" width="1.5" height="1.5" fill="#333"/>
<rect x="533.22" y="378.5" width="1.5" height="1.5" fill="#333"/>
<rect x="533.22" y="383.5" width="1.5" height="1.5" fill="#333"/>
<rect x="533.22" y="388.5" width="1.5" height="1.5" fill="#333"/>
<rect x="533.22" y="393.5" width="1.5" height="1.5" fill="#333"/>
<rect x="533.22" y="398.5" width="1.5" height="1.5" fill="#333"/>
<rect x="533.22" y="403.5" width="1.5" height="1.5" fill="#333"/>
<rect x="533.22" y="408.5" width="1.5" height="1.5" fill="#333"/>
<rect x="533.22" y="413.5" width="1.5" height="1.5" fill="#333"/>
<rect x="533.22" y="418.5" width="1.5" height="1.5" fill="#333"/>
<rect x="533.22" y="423.5" width="1.5" height="1.5" fill="#333"/>
<rect x="533.22" y="428.5" width="1.5" height="1.5" fill="#333"/>
<rect x="533.22" y="433.5" width="1.5" height="1.5" fill="#333"/>
<rect x="533.22" y="438.5" width="1.5" height="1.5" fill="#333"/>
<rect x="533.22" y="443.5" width="1.5" height="1.5" fill="#333"/>
<rect x="533.22" y="448.5" width="1.5" height="1.5" fill="#333"/>
<rect x="533.22" y="453.5" width="1.5" height="1.5" fill="#333"/>
<rect x="533.22" y="458.5" width="1.5" height="1.5" fill="#333"/>
<rect x="533.22" y="463.5" width="1.5" height="1.5" fill="#333"/>
<rect x="533.22" y="468.5" width="1.5" height="1.5" fill="#333"/>
<rect x="533.22" y="473.5" width="1.5" height="1.5" fill="#333"/>
<rect x="533.22" y="478.5" width="1.5" height="1.5" fill="#333"/>
<rect x="533.22" y="483.5" width="1.5" height="1.5" fill="#333"/>
<rect x="533.22" y="488.5" width="1.5" height="1.5" fill="#333"/>
<rect x="533.22" y="493.5" width="1.5" height="1.5" fill="#333"/>
<rect x="533.22" y="498.5" width="1.5" height="1.5" fill="#333"/>
<rect x="533.22" y="503.5" width="1.5" height="1.5" fill="#333"/>
<rect x="516.72" y="338.27" width="21.3" height="170.03" fill="none" stroke="#000" stroke-width="1.8"/>
<line x1="527.37" y1="337.37" x2="527.37" y2="328.55" stroke="#555" stroke-width="1.7"/>
<line x1="523.77" y1="328.55" x2="530.97" y2="328.55" stroke="#555" stroke-width="1.7"/>
<text x="527.37" y="317.6" font-size="14.7" text-anchor="middle" font-weight="normal" font-style="normal" font-family='"Liberation Sans", sans-serif' >a</text>
<text x="612.4" y="530.6" font-size="14.7" text-anchor="middle" font-weight="normal" font-style="italic" font-family='"Liberation Sans", sans-serif' >R. intraradices</text>
<rect x="587.65" y="464.93" width="21.3" height="43.38" fill="#fff" stroke="#000" stroke-width="1.8"/>
<line x1="598.3" y1="464.03" x2="598.3" y2="461.46" stroke="#555" stroke-width="1.7"/>
<line x1="594.7" y1="461.46" x2="601.9" y2="461.46" stroke="#555" stroke-width="1.7"/>
<text x="598.3" y="454.3" font-size="14.7" text-anchor="middle" font-weight="normal" font-style="normal" font-family='"Liberation Sans", sans-serif' >b</text>
<rect x="615.85" y="425.02" width="21.3" height="83.28" fill="#fff"/>
<rect x="617.35" y="431" width="1.5" height="1.5" fill="#333"/>
<rect x="617.35" y="436" width="1.5" height="1.5" fill="#333"/>
<rect x="617.35" y="441" width="1.5" height="1.5" fill="#333"/>
<rect x="617.35" y="446" width="1.5" height="1.5" fill="#333"/>
<rect x="617.35" y="451" width="1.5" height="1.5" fill="#333"/>
<rect x="617.35" y="456" width="1.5" height="1.5" fill="#333"/>
<rect x="617.35" y="461" width="1.5" height="1.5" fill="#333"/>
<rect x="617.35" y="466" width="1.5" height="1.5" fill="#333"/>
<rect x="617.35" y="471" width="1.5" height="1.5" fill="#333"/>
<rect x="617.35" y="476" width="1.5" height="1.5" fill="#333"/>
<rect x="617.35" y="481" width="1.5" height="1.5" fill="#333"/>
<rect x="617.35" y="486" width="1.5" height="1.5" fill="#333"/>
<rect x="617.35" y="491" width="1.5" height="1.5" fill="#333"/>
<rect x="617.35" y="496" width="1.5" height="1.5" fill="#333"/>
<rect x="617.35" y="501" width="1.5" height="1.5" fill="#333"/>
<rect x="617.35" y="506" width="1.5" height="1.5" fill="#333"/>
<rect x="622.35" y="428.5" width="1.5" height="1.5" fill="#333"/>
<rect x="622.35" y="433.5" width="1.5" height="1.5" fill="#333"/>
<rect x="622.35" y="438.5" width="1.5" height="1.5" fill="#333"/>
<rect x="622.35" y="443.5" width="1.5" height="1.5" fill="#333"/>
<rect x="622.35" y="448.5" width="1.5" height="1.5" fill="#333"/>
<rect x="622.35" y="453.5" width="1.5" height="1.5" fill="#333"/>
<rect x="622.35" y="458.5" width="1.5" height="1.5" fill="#333"/>
<rect x="622.35" y="463.5" width="1.5" height="1.5" fill="#333"/>
<rect x="622.35" y="468.5" width="1.5" height="1.5" fill="#333"/>
<rect x="622.35" y="473.5" width="1.5" height="1.5" fill="#333"/>
<rect x="622.35" y="478.5" width="1.5" height="1.5" fill="#333"/>
<rect x="622.35" y="483.5" width="1.5" height="1.5" fill="#333"/>
<rect x="622.35" y="488.5" width="1.5" height="1.5" fill="#333"/>
<rect x="622.35" y="493.5" width="1.5" height="1.5" fill="#333"/>
<rect x="622.35" y="498.5" width="1.5" height="1.5" fill="#333"/>
<rect x="622.35" y="503.5" width="1.5" height="1.5" fill="#333"/>
<rect x="627.35" y="431" width="1.5" height="1.5" fill="#333"/>
<rect x="627.35" y="436" width="1.5" height="1.5" fill="#333"/>
<rect x="627.35" y="441" width="1.5" height="1.5" fill="#333"/>
<rect x="627.35" y="446" width="1.5" height="1.5" fill="#333"/>
<rect x="627.35" y="451" width="1.5" height="1.5" fill="#333"/>
<rect x="627.35" y="456" width="1.5" height="1.5" fill="#333"/>
<rect x="627.35" y="461" width="1.5" height="1.5" fill="#333"/>
<rect x="627.35" y="466" width="1.5" height="1.5" fill="#333"/>
<rect x="627.35" y="471" width="1.5" height="1.5" fill="#333"/>
<rect x="627.35" y="476" width="1.5" height="1.5" fill="#333"/>
<rect x="627.35" y="481" width="1.5" height="1.5" fill="#333"/>
<rect x="627.35" y="486" width="1.5" height="1.5" fill="#333"/>
<rect x="627.35" y="491" width="1.5" height="1.5" fill="#333"/>
<rect x="627.35" y="496" width="1.5" height="1.5" fill="#333"/>
<rect x="627.35" y="501" width="1.5" height="1.5" fill="#333"/>
<rect x="627.35" y="506" width="1.5" height="1.5" fill="#333"/>
<rect x="632.35" y="428.5" width="1.5" height="1.5" fill="#333"/>
<rect x="632.35" y="433.5" width="1.5" height="1.5" fill="#333"/>
<rect x="632.35" y="438.5" width="1.5" height="1.5" fill="#333"/>
<rect x="632.35" y="443.5" width="1.5" height="1.5" fill="#333"/>
<rect x="632.35" y="448.5" width="1.5" height="1.5" fill="#333"/>
<rect x="632.35" y="453.5" width="1.5" height="1.5" fill="#333"/>
<rect x="632.35" y="458.5" width="1.5" height="1.5" fill="#333"/>
<rect x="632.35" y="463.5" width="1.5" height="1.5" fill="#333"/>
<rect x="632.35" y="468.5" width="1.5" height="1.5" fill="#333"/>
<rect x="632.35" y="473.5" width="1.5" height="1.5" fill="#333"/>
<rect x="632.35" y="478.5" width="1.5" height="1.5" fill="#333"/>
<rect x="632.35" y="483.5" width="1.5" height="1.5" fill="#333"/>
<rect x="632.35" y="488.5" width="1.5" height="1.5" fill="#333"/>
<rect x="632.35" y="493.5" width="1.5" height="1.5" fill="#333"/>
<rect x="632.35" y="498.5" width="1.5" height="1.5" fill="#333"/>
<rect x="632.35" y="503.5" width="1.5" height="1.5" fill="#333"/>
<rect x="615.85" y="425.02" width="21.3" height="83.28" fill="none" stroke="#000" stroke-width="1.8"/>
<line x1="626.5" y1="424.12" x2="626.5" y2="417.39" stroke="#555" stroke-width="1.7"/>
<line x1="622.9" y1="417.39" x2="630.1" y2="417.39" stroke="#555" stroke-width="1.7"/>
<text x="626.5" y="407.7" font-size="14.7" text-anchor="middle" font-weight="normal" font-style="normal" font-family='"Liberation Sans", sans-serif' >a</text>
<text x="711.53" y="530.6" font-size="14.7" text-anchor="middle" font-weight="normal" font-style="italic" font-family='"Liberation Sans", sans-serif' >G. versiform</text>
<rect x="686.78" y="452.78" width="21.3" height="55.52" fill="#fff" stroke="#000" stroke-width="1.8"/>
<line x1="697.43" y1="451.88" x2="697.43" y2="446.88" stroke="#555" stroke-width="1.7"/>
<line x1="693.83" y1="446.88" x2="701.03" y2="446.88" stroke="#555" stroke-width="1.7"/>
<text x="697.43" y="438.5" font-size="14.7" text-anchor="middle" font-weight="normal" font-style="normal" font-family='"Liberation Sans", sans-serif' >b</text>
<rect x="714.98" y="386.85" width="21.3" height="121.45" fill="#fff"/>
<rect x="716.48" y="391" width="1.5" height="1.5" fill="#333"/>
<rect x="716.48" y="396" width="1.5" height="1.5" fill="#333"/>
<rect x="716.48" y="401" width="1.5" height="1.5" fill="#333"/>
<rect x="716.48" y="406" width="1.5" height="1.5" fill="#333"/>
<rect x="716.48" y="411" width="1.5" height="1.5" fill="#333"/>
<rect x="716.48" y="416" width="1.5" height="1.5" fill="#333"/>
<rect x="716.48" y="421" width="1.5" height="1.5" fill="#333"/>
<rect x="716.48" y="426" width="1.5" height="1.5" fill="#333"/>
<rect x="716.48" y="431" width="1.5" height="1.5" fill="#333"/>
<rect x="716.48" y="436" width="1.5" height="1.5" fill="#333"/>
<rect x="716.48" y="441" width="1.5" height="1.5" fill="#333"/>
<rect x="716.48" y="446" width="1.5" height="1.5" fill="#333"/>
<rect x="716.48" y="451" width="1.5" height="1.5" fill="#333"/>
<rect x="716.48" y="456" width="1.5" height="1.5" fill="#333"/>
<rect x="716.48" y="461" width="1.5" height="1.5" fill="#333"/>
<rect x="716.48" y="466" width="1.5" height="1.5" fill="#333"/>
<rect x="716.48" y="471" width="1.5" height="1.5" fill="#333"/>
<rect x="716.48" y="476" width="1.5" height="1.5" fill="#333"/>
<rect x="716.48" y="481" width="1.5" height="1.5" fill="#333"/>
<rect x="716.48" y="486" width="1.5" height="1.5" fill="#333"/>
<rect x="716.48" y="491" width="1.5" height="1.5" fill="#333"/>
<rect x="716.48" y="496" width="1.5" height="1.5" fill="#333"/>
<rect x="716.48" y="501" width="1.5" height="1.5" fill="#333"/>
<rect x="716.48" y="506" width="1.5" height="1.5" fill="#333"/>
<rect x="721.48" y="388.5" width="1.5" height="1.5" fill="#333"/>
<rect x="721.48" y="393.5" width="1.5" height="1.5" fill="#333"/>
<rect x="721.48" y="398.5" width="1.5" height="1.5" fill="#333"/>
<rect x="721.48" y="403.5" width="1.5" height="1.5" fill="#333"/>
<rect x="721.48" y="408.5" width="1.5" height="1.5" fill="#333"/>
<rect x="721.48" y="413.5" width="1.5" height="1.5" fill="#333"/>
<rect x="721.48" y="418.5" width="1.5" height="1.5" fill="#333"/>
<rect x="721.48" y="423.5" width="1.5" height="1.5" fill="#333"/>
<rect x="721.48" y="428.5" width="1.5" height="1.5" fill="#333"/>
<rect x="721.48" y="433.5" width="1.5" height="1.5" fill="#333"/>
<rect x="721.48" y="438.5" width="1.5" height="1.5" fill="#333"/>
<rect x="721.48" y="443.5" width="1.5" height="1.5" fill="#333"/>
<rect x="721.48" y="448.5" width="1.5" height="1.5" fill="#333"/>
<rect x="721.48" y="453.5" width="1.5" height="1.5" fill="#333"/>
<rect x="721.48" y="458.5" width="1.5" height="1.5" fill="#333"/>
<rect x="721.48" y="463.5" width="1.5" height="1.5" fill="#333"/>
<rect x="721.48" y="468.5" width="1.5" height="1.5" fill="#333"/>
<rect x="721.48" y="473.5" width="1.5" height="1.5" fill="#333"/>
<rect x="721.48" y="478.5" width="1.5" height="1.5" fill="#333"/>
<rect x="721.48" y="483.5" width="1.5" height="1.5" fill="#333"/>
<rect x="721.48" y="488.5" width="1.5" height="1.5" fill="#333"/>
<rect x="721.48" y="493.5" width="1.5" height="1.5" fill="#333"/>
<rect x="721.48" y="498.5" width="1.5" height="1.5" fill="#333"/>
<rect x="721.48" y="503.5" width="1.5" height="1.5" fill="#333"/>
<rect x="726.48" y="391" width="1.5" height="1.5" fill="#333"/>
<rect x="726.48" y="396" width="1.5" height="1.5" fill="#333"/>
<rect x="726.48" y="401" width="1.5" height="1.5" fill="#333"/>
<rect x="726.48" y="406" width="1.5" height="1.5" fill="#333"/>
<rect x="726.48" y="411" width="1.5" height="1.5" fill="#333"/>
<rect x="726.48" y="416" width="1.5" height="1.5" fill="#333"/>
<rect x="726.48" y="421" width="1.5" height="1.5" fill="#333"/>
<rect x="726.48" y="426" width="1.5" height="1.5" fill="#333"/>
<rect x="726.48" y="431" width="1.5" height="1.5" fill="#333"/>
<rect x="726.48" y="436" width="1.5" height="1.5" fill="#333"/>
<rect x="726.48" y="441" width="1.5" height="1.5" fill="#333"/>
<rect x="726.48" y="446" width="1.5" height="1.5" fill="#333"/>
<rect x="726.48" y="451" width="1.5" height="1.5" fill="#333"/>
<rect x="726.48" y="456" width="1.5" height="1.5" fill="#333"/>
<rect x="726.48" y="461" width="1.5" height="1.5" fill="#333"/>
<rect x="726.48" y="466" width="1.5" height="1.5" fill="#333"/>
<rect x="726.48" y="471" width="1.5" height="1.5" fill="#333"/>
<rect x="726.48" y="476" width="1.5" height="1.5" fill="#333"/>
<rect x="726.48" y="481" width="1.5" height="1.5" fill="#333"/>
<rect x="726.48" y="486" width="1.5" height="1.5" fill="#333"/>
<rect x="726.48" y="491" width="1.5" height="1.5" fill="#333"/>
<rect x="726.48" y="496" width="1.5" height="1.5" fill="#333"/>
<rect x="726.48" y="501" width="1.5" height="1.5" fill="#333"/>
<rect x="726.48" y="506" width="1.5" height="1.5" fill="#333"/>
<rect x="731.48" y="388.5" width="1.5" height="1.5" fill="#333"/>
<rect x="731.48" y="393.5" width="1.5" height="1.5" fill="#333"/>
<rect x="731.48" y="398.5" width="1.5" height="1.5" fill="#333"/>
<rect x="731.48" y="403.5" width="1.5" height="1.5" fill="#333"/>
<rect x="731.48" y="408.5" width="1.5" height="1.5" fill="#333"/>
<rect x="731.48" y="413.5" width="1.5" height="1.5" fill="#333"/>
<rect x="731.48" y="418.5" width="1.5" height="1.5" fill="#333"/>
<rect x="731.48" y="423.5" width="1.5" height="1.5" fill="#333"/>
<rect x="731.48" y="428.5" width="1.5" height="1.5" fill="#333"/>
<rect x="731.48" y="433.5" width="1.5" height="1.5" fill="#333"/>
<rect x="731.48" y="438.5" width="1.5" height="1.5" fill="#333"/>
<rect x="731.48" y="443.5" width="1.5" height="1.5" fill="#333"/>
<rect x="731.48" y="448.5" width="1.5" height="1.5" fill="#333"/>
<rect x="731.48" y="453.5" width="1.5" height="1.5" fill="#333"/>
<rect x="731.48" y="458.5" width="1.5" height="1.5" fill="#333"/>
<rect x="731.48" y="463.5" width="1.5" height="1.5" fill="#333"/>
<rect x="731.48" y="468.5" width="1.5" height="1.5" fill="#333"/>
<rect x="731.48" y="473.5" width="1.5" height="1.5" fill="#333"/>
<rect x="731.48" y="478.5" width="1.5" height="1.5" fill="#333"/>
<rect x="731.48" y="483.5" width="1.5" height="1.5" fill="#333"/>
<rect x="731.48" y="488.5" width="1.5" height="1.5" fill="#333"/>
<rect x="731.48" y="493.5" width="1.5" height="1.5" fill="#333"/>
<rect x="731.48" y="498.5" width="1.5" height="1.5" fill="#333"/>
<rect x="731.48" y="503.5" width="1.5" height="1.5" fill="#333"/>
<rect x="714.98" y="386.85" width="21.3" height="121.45" fill="none" stroke="#000" stroke-width="1.8"/>
<line x1="725.63" y1="385.95" x2="725.63" y2="377.13" stroke="#555" stroke-width="1.7"/>
<line x1="722.03" y1="377.13" x2="729.23" y2="377.13" stroke="#555" stroke-width="1.7"/>
<text x="725.63" y="369.5" font-size="14.7" text-anchor="middle" font-weight="normal" font-style="normal" font-family='"Liberation Sans", sans-serif' >a</text>
<text transform="translate(416.5,392.6) rotate(-90)" font-size="14.85" text-anchor="middle" font-weight="bold" font-family='"Liberation Sans", sans-serif'>AMF effectiveness [%]</text>
<text x="402.8" y="296.6" font-size="24.5" text-anchor="start" font-weight="bold" font-style="normal" font-family='"Liberation Sans", sans-serif' >d</text>
<text x="607" y="563.9" font-size="14.7" text-anchor="middle" font-weight="bold" font-style="normal" font-family='"Liberation Sans", sans-serif' >AMF species</text>
<rect x="193.3" y="32" width="7.6" height="7.6" fill="#fff" stroke="#000" stroke-width="1.4"/>
<text x="204.2" y="40.5" font-size="14.7" text-anchor="start" font-weight="normal" font-style="normal" font-family='"Liberation Sans", sans-serif' >&#8211;AMF&#8211;Si</text>
<rect x="275.7" y="32" width="7.6" height="7.6" fill="url(#pl2)" stroke="#000" stroke-width="1.4"/>
<text x="287.2" y="40.5" font-size="14.7" text-anchor="start" font-weight="normal" font-style="normal" font-family='"Liberation Sans", sans-serif' >&#8211;AMF+Si</text>
<rect x="193.3" y="60.9" width="7.6" height="7.6" fill="url(#pl3)" stroke="#000" stroke-width="1.4"/>
<text x="204.2" y="69.4" font-size="14.7" text-anchor="start" font-weight="normal" font-style="normal" font-family='"Liberation Sans", sans-serif' >&#160;+AMF&#8211;Si</text>
<rect x="275.7" y="60.9" width="7.6" height="7.6" fill="url(#pl4)" stroke="#000" stroke-width="1.4"/>
<text x="287.3" y="69.4" font-size="14.7" text-anchor="start" font-weight="normal" font-style="normal" font-family='"Liberation Sans", sans-serif' >&#160;+AMF+Si</text>
<rect x="651.6" y="314" width="7.6" height="7.6" fill="#fff" stroke="#000" stroke-width="1.4"/>
<text x="666.5" y="322" font-size="14.7" text-anchor="start" font-weight="normal" font-style="normal" font-family='"Liberation Sans", sans-serif' >&#8211;Si</text>
<rect x="710.8" y="314" width="7.6" height="7.6" fill="url(#pl)" stroke="#000" stroke-width="1.4"/>
<text x="726.3" y="322" font-size="14.7" text-anchor="start" font-weight="normal" font-style="normal" font-family='"Liberation Sans", sans-serif' >+Si</text>
</svg>
</body></html>
